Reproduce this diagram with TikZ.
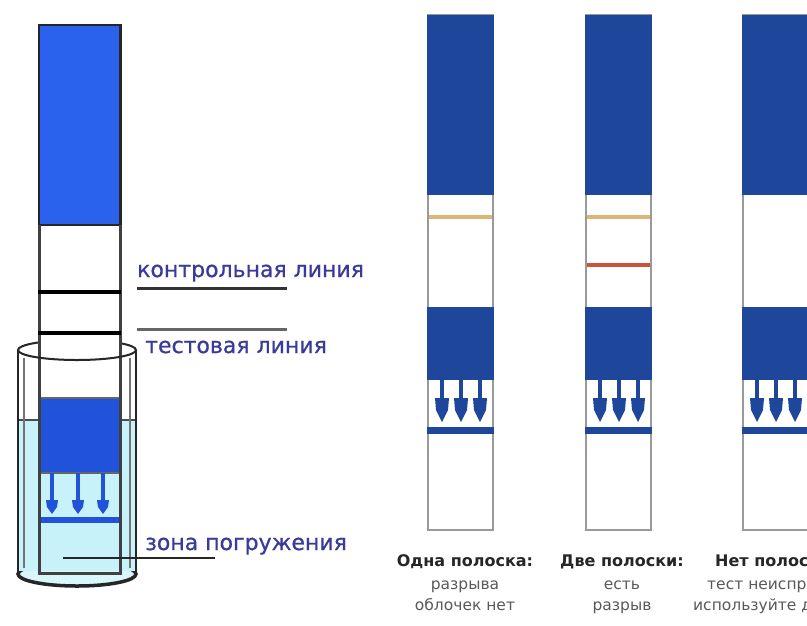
\documentclass[tikz,border=0pt]{standalone}
\usepackage{fontspec}
\setmainfont{DejaVu Sans}
\newfontfamily\lblfont[FakeBold=0.7]{DejaVu Sans}
\definecolor{lblue}{HTML}{2A62EE}
\definecolor{lblueb}{HTML}{2152DA}
\definecolor{dblue}{HTML}{1E479C}
\definecolor{liquid}{HTML}{C8F2FA}
\definecolor{navy}{HTML}{3A3A98}
\definecolor{edgegray}{HTML}{9A9A9A}
\definecolor{ctrlline}{HTML}{DDB676}
\definecolor{testline}{HTML}{C8553A}
\newcommand{\flowarrow}[6]{% x, ytop, yhead, ytip, half head width, colour
  \fill[#6] (#1-2.2,#2) rectangle (#1+2.2,#3+2);
  \fill[#6] (#1-#5,#3) -- (#1+#5,#3) -- (#1+#5-1,#3+0.5*#4-0.5*#3) -- (#1,#4) -- (#1-#5+1,#3+0.5*#4-0.5*#3) -- cycle;
}
\begin{document}
\begin{tikzpicture}[x=1pt,y=-1pt,
  lbl/.style={font=\lblfont\fontsize{22}{24}\selectfont, text=navy, inner sep=0pt, anchor=base west},
  caphead/.style={font=\fontsize{16}{18}\selectfont\bfseries, text=black!85, inner sep=0pt, anchor=base},
  capsub/.style={font=\fontsize{15.5}{18}\selectfont, text=black!65, inner sep=0pt, anchor=base},
  rstrip/.style={fill=white, draw=edgegray, line width=2pt}]
\useasboundingbox[fill=white] (0,0) rectangle (807,625);

% ---------- left device: tube with liquid ----------
\fill[liquid] (18,420) rectangle (136,574);
\draw[fill=liquid!70!white, line width=3.5pt, draw=black!85] (77,574) ellipse [x radius=59, y radius=12];
\fill[liquid] (19,420) rectangle (135,571);
% rim (back part)
\draw[fill=white, line width=2pt, draw=black!85] (77,350) ellipse [x radius=59, y radius=10];
\fill[white] (19,350) rectangle (135,419);
\fill[white] (38,225) rectangle (121,420);
% liquid surface
\draw[line width=1.5pt, black!70] (18,420) -- (136,420);

% strip top blue
\draw[fill=lblue, draw=black!85, line width=2.5pt] (39,25) rectangle (120.5,225);
% strip lower blue block
\fill[lblueb] (39,398) rectangle (120.5,473);
\draw[line width=2pt, black!60] (39,398) -- (120.5,398);
\draw[line width=1.5pt, black!60] (39,473) -- (120.5,473);
% arrows
\flowarrow{52}{473}{500}{514}{6}{lblueb}
\flowarrow{78}{473}{500}{514}{6}{lblueb}
\flowarrow{103}{473}{500}{514}{6}{lblueb}
\fill[lblueb] (39,517) rectangle (122,523);
% strip edges
\draw[line width=3pt, black!75] (39.5,225) -- (39.5,573) -- (120,573) -- (120,225);
% control and test lines
\draw[line width=4pt, black] (38,292) -- (121,292);
\draw[line width=4pt, black] (38,333) -- (121,333);
% tube walls
\draw[line width=2pt, black!85] (18,350) -- (18,574);
\draw[line width=2pt, black!85] (136,350) -- (136,574);
\draw[line width=1.2pt, black!55] (24,358) -- (24,568);
\draw[line width=1.2pt, black!55] (130,358) -- (130,568);
% rim front part
\begin{scope}
  \clip (0,350) rectangle (160,366);
  \draw[line width=2pt, black!85] (77,350) ellipse [x radius=59, y radius=10];
\end{scope}

% labels
\node[lbl] (ctrl) at (137,277) {контрольная линия};
\draw[line width=3pt, black!80] (137,288) -- (287,288);
\draw[line width=3pt, black!60] (137,329) -- (287,329);
\node[lbl] (test) at (145,353) {тестовая линия};
\node[lbl] (zone) at (145,550) {зона погружения};
\draw[line width=2.5pt, black!85] (63,558) -- (215,558);

% ---------- right strips ----------
\foreach \sx/\nm in {428/a, 586/b, 743/c}{
  \draw[rstrip] (\sx,15) rectangle (\sx+65,530);
  \fill[dblue] (\sx-1,15) rectangle (\sx+66,195);
  \fill[dblue] (\sx-1,307) rectangle (\sx+66,380);
  \flowarrow{\sx+14}{380}{398}{422}{7}{dblue}
  \flowarrow{\sx+33}{380}{398}{422}{7}{dblue}
  \flowarrow{\sx+52}{380}{398}{422}{7}{dblue}
  \fill[dblue] (\sx-1,427) rectangle (\sx+66,434);
}
\draw[line width=3.5pt, ctrlline] (429,217) -- (492,217);
\draw[line width=3.5pt, ctrlline] (587,217) -- (650,217);
\draw[line width=4pt, testline] (587,265) -- (650,265);

% captions
\node[caphead] (h1) at (465,566) {Одна полоска:};
\node[capsub] (s1a) at (465,589) {разрыва};
\node[capsub] (s1b) at (465,610) {облочек нет};
\node[caphead] (h2) at (622,566) {Две полоски:};
\node[capsub] (s2a) at (622,589) {есть};
\node[capsub] (s2b) at (622,610) {разрыв};
\node[caphead] (h3) at (776,566) {Нет полосок:};
\node[capsub] (s3a) at (776,589) {тест неисправен};
\node[capsub] (s3b) at (776,610) {используйте другой};
\end{tikzpicture}
\end{document}
